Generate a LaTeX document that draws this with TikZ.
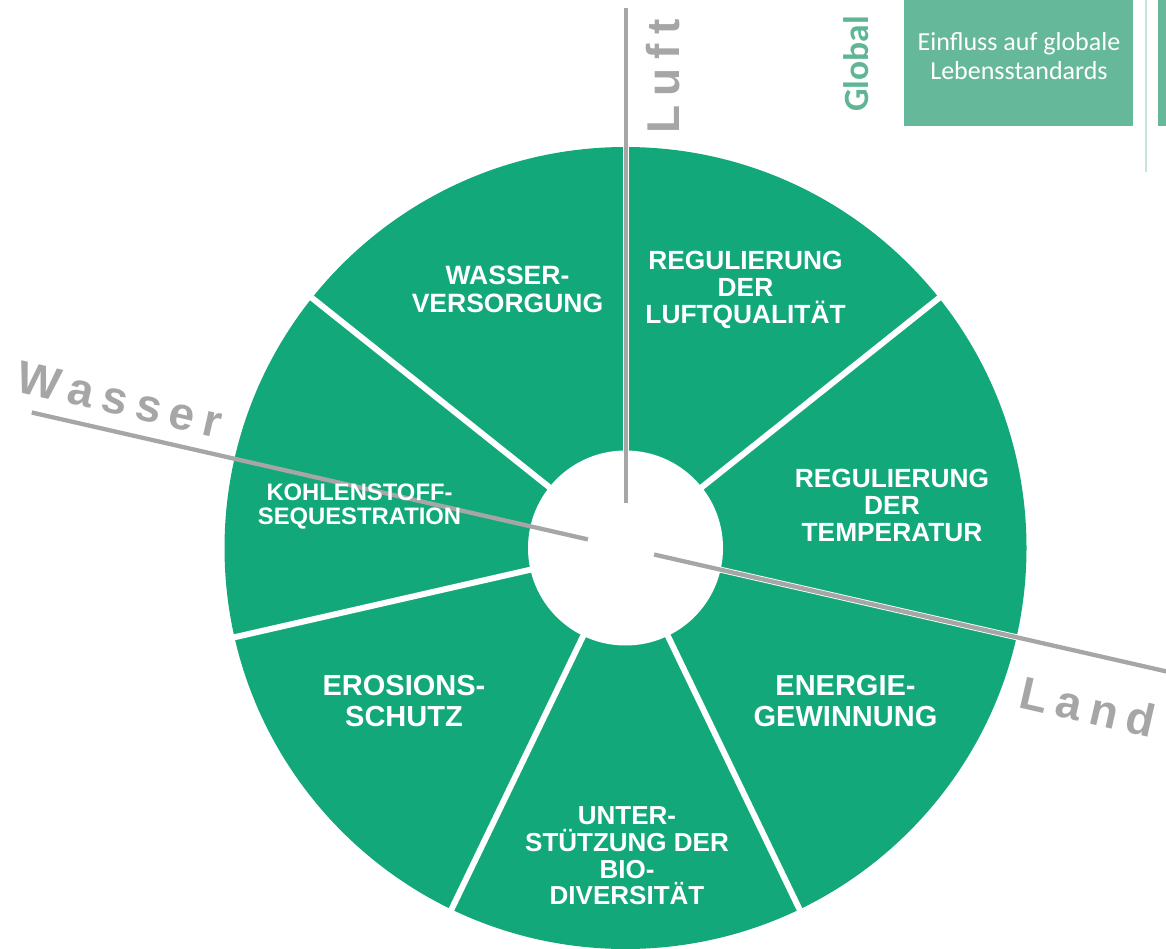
\documentclass[tikz,border=0pt]{standalone}
\usepackage{fontspec}
\setmainfont{Liberation Sans}
\newfontfamily\calib{Carlito}
\definecolor{segGreen}{RGB}{19,168,122}
\definecolor{boxGreen}{RGB}{102,184,155}
\definecolor{globGreen}{RGB}{96,182,148}
\definecolor{axGray}{RGB}{166,166,166}
\definecolor{thinLine}{RGB}{200,228,216}
\newcommand{\spc}{\kern9pt}
\tikzset{
  seplinestyle/.style={white, line width=6pt},
  axline/.style={axGray, line width=4.3pt},
  seglab/.style 2 args={text=white, font=\bfseries\fontsize{#1}{#2}\selectfont, align=center, inner sep=0pt},
  axlab/.style={text=axGray, font=\bfseries\fontsize{46}{46}\selectfont, inner sep=0pt},
}
\begin{document}
\begin{tikzpicture}[x=1pt,y=-1pt]
\useasboundingbox (0,0) rectangle (1166,949);
% wheel
\node[circle, fill=segGreen, minimum size=802pt, inner sep=0pt] (disc) at (625.5,548) {};
\foreach \k in {0,...,6}{
  \draw[seplinestyle] (disc.center) -- ++({-90+\k*360/7}:405);
}
\node[circle, fill=white, minimum size=195pt, inner sep=0pt] (hub) at (625.5,548) {};
% axis lines
\coordinate (luftTop) at (626,8);
\coordinate (luftEnd) at (626,503);
\path (hub.center) ++(192.857:609) coordinate (wasTop);
\path (hub.center) ++(192.857:38.6) coordinate (wasEnd);
\path (hub.center) ++(12.857:29.3) coordinate (landStart);
\path (hub.center) ++(12.857:560) coordinate (landEnd);
\draw[axline] (luftTop) -- (luftEnd);
\draw[axline] (wasTop) -- (wasEnd);
\draw[axline] (landStart) -- (landEnd);
% axis labels
\node[axlab, rotate=90] (luft) at (663,76.5) {L\spc u\spc f\spc t};
\node[axlab, rotate=-13] (wasser) at (120,399.4) {W\spc a\spc s\spc s\spc e\spc r};
\node[axlab, rotate=-13] (land) at (1088,706.5) {L\spc a\spc n\spc d};
% segment labels
\node[seglab={26.5}{28}] (s1) at (507.5,289.5) {WASSER-\\VERSORGUNG};
\node[seglab={26.3}{26.8}] (s2) at (745.5,290) {REGULIERUNG\\DER\\LUFTQUALITÄT};
\node[seglab={26.3}{27}] (s3) at (892,505.5) {REGULIERUNG\\DER\\TEMPERATUR};
\node[seglab={29}{31}] (s4) at (845.5,701.5) {ENERGIE-\\GEWINNUNG};
\node[seglab={26}{26.7}] (s5) at (627,856) {UNTER-\\STÜTZUNG DER\\BIO-\\DIVERSITÄT};
\node[seglab={29}{31}] (s6) at (404,701.5) {EROSIONS-\\SCHUTZ};
\node[seglab={23.8}{24}] (s7) at (359.5,506.5) {KOHLENSTOFF-\\SEQUESTRATION};
% top right legend
\node[text=globGreen, font=\calib\bfseries\fontsize{35.5}{35.5}\selectfont, rotate=90, inner sep=0pt] (global) at (856.5,64) {Global};
\node[fill=boxGreen, anchor=north west, minimum width=229pt, minimum height=126pt, inner sep=0pt] (box1) at (904,0) {};
\node[text=white, font=\calib\fontsize{26}{28.6}\selectfont, align=center, inner sep=0pt] (boxtext) at (1019,56) {Einfluss auf globale\\Lebensstandards};
\node[fill=boxGreen, anchor=north west, minimum width=20pt, minimum height=126pt, inner sep=0pt] (box2) at (1158,0) {};
\coordinate (thinTop) at (1146,0);
\coordinate (thinBot) at (1146,172);
\draw[thinLine, line width=1.5pt] (thinTop) -- (thinBot);
\end{tikzpicture}
\end{document}
